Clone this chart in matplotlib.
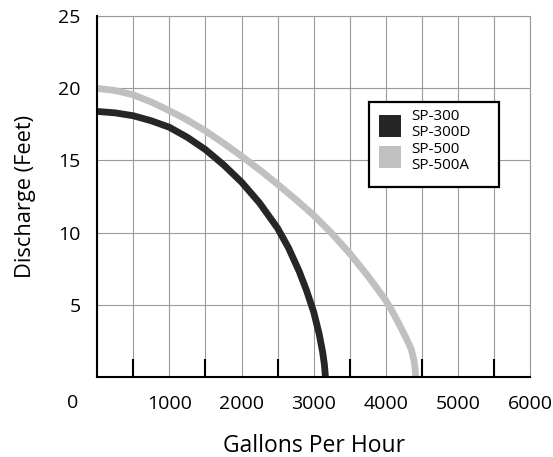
import matplotlib
matplotlib.use("Agg")
import matplotlib.pyplot as plt
from matplotlib.patches import Rectangle

plt.rcParams['font.family'] = ['Open Sans', 'DejaVu Sans']

# ---- data ----
sp300_gph = [0, 250, 500, 750, 1000, 1250, 1500, 1750, 2000, 2250, 2500, 2650, 2800, 2900,
             3000, 3075, 3125, 3150, 3163]
sp300_ft = [18.4, 18.3, 18.1, 17.75, 17.3, 16.6, 15.75, 14.7, 13.5, 12.05, 10.3, 8.95, 7.3, 6.0,
            4.5, 3.0, 1.7, 0.8, 0]

sp500_gph = [0, 250, 500, 750, 1000, 1250, 1500, 1750, 2000, 2250, 2500, 2750, 3000, 3250,
             3500, 3750, 4000, 4100, 4200, 4300, 4354, 4390, 4407, 4414]
sp500_ft = [20.0, 19.85, 19.55, 19.05, 18.45, 17.8, 17.05, 16.2, 15.3, 14.35, 13.35, 12.3, 11.2, 9.95,
            8.55, 7.0, 5.3, 4.45, 3.5, 2.5, 1.9, 1.15, 0.55, 0]

x_label_ticks = [1000, 2000, 3000, 4000, 5000, 6000]
x_mark_ticks = [500, 1000, 1500, 2000, 2500, 3000, 3500, 4000, 4500, 5000, 5500]
y_label_ticks = [5, 10, 15, 20, 25]
y_mark_ticks = [5, 10, 15]
series_labels = ["SP-300\nSP-300D", "SP-500\nSP-500A"]
series_colors = ["#262626", "#c0c0c0"]

W, H, DPI = 553, 457, 100
fig = plt.figure(figsize=(W / DPI, H / DPI), dpi=DPI)
ax = fig.add_axes([97.3 / W, 1 - 376.7 / H, (530 - 97.3) / W, (376.7 - 16.3) / H])
ax.set_xlim(0, 6000)
ax.set_ylim(0, 25)

grid_c = "#9a9a9a"
for gx in range(500, 6001, 500):
    ax.axvline(gx, color=grid_c, lw=0.8, zorder=1)
for gy in range(5, 26, 5):
    ax.axhline(gy, color=grid_c, lw=0.8, zorder=1)

ax.plot(sp300_gph, sp300_ft, color=series_colors[0], lw=4.9, solid_capstyle='butt',
        solid_joinstyle='round', zorder=3)
ax.plot(sp500_gph, sp500_ft, color=series_colors[1], lw=4.9, solid_capstyle='butt',
        solid_joinstyle='round', zorder=3)

for side in ['top', 'right']:
    ax.spines[side].set_color(grid_c)
    ax.spines[side].set_linewidth(0.8)
for side in ['left', 'bottom']:
    ax.spines[side].set_color('black')
    ax.spines[side].set_linewidth(1.5)
    ax.spines[side].set_zorder(4)

ax.set_xticks(x_label_ticks)
ax.set_xticklabels([str(v) for v in x_label_ticks])
ax.set_xticks(x_mark_ticks, minor=True)
ax.set_yticks(y_label_ticks)
ax.set_yticklabels([str(v) for v in y_label_ticks])
ax.set_yticks(y_mark_ticks, minor=True)
ax.tick_params(axis='both', which='major', length=0, labelsize=14)
ax.tick_params(axis='x', which='major', pad=13)
ax.tick_params(axis='y', which='major', pad=12)
ax.tick_params(axis='x', which='minor', direction='in', length=13, width=1.5, color='black')
ax.tick_params(axis='y', which='minor', direction='in', length=14, width=1.5, color='black')

fig.text(73 / W, 1 - 403 / H, "0", ha='center', va='center', fontsize=14)

ax.set_xlabel("Gallons Per Hour", fontsize=16.5, labelpad=15)
ax.set_ylabel("Discharge (Feet)", fontsize=15.7, labelpad=16)

# legend (custom box)
ax.add_patch(Rectangle((0.628, 0.527), 0.300, 0.236, transform=ax.transAxes,
                       facecolor='white', edgecolor='black', lw=1.6, zorder=5))
sq_x = (379 - 97.3) / 432.7
sq_w = 21.7 / 432.7
sq_h = 21.7 / 360.4
sq_tops = [115, 146]
text_centers = [(117, 133), (149.2, 165.2)]
for i in range(2):
    y0 = (376.7 - sq_tops[i] - 21.7) / 360.4
    ax.add_patch(Rectangle((sq_x, y0), sq_w, sq_h, transform=ax.transAxes,
                           facecolor=series_colors[i], edgecolor='none', zorder=6))
    lines = series_labels[i].split("\n")
    for j, line in enumerate(lines):
        ty = (376.7 - text_centers[i][j]) / 360.4
        ax.text((411 - 97.3) / 432.7, ty, line, transform=ax.transAxes, ha='left',
                va='center', fontsize=11, zorder=7)

fig.savefig("out.png", dpi=DPI)
